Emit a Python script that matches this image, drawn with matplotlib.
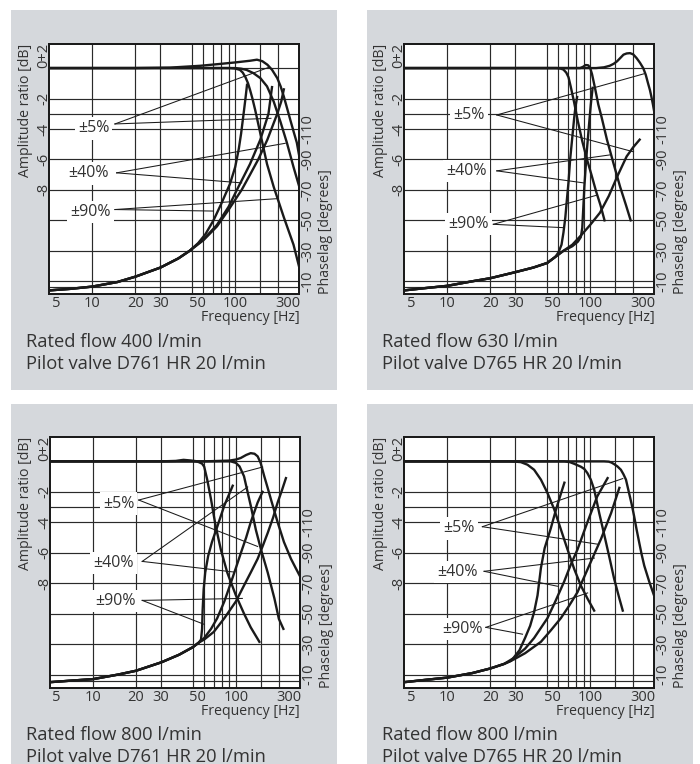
import matplotlib
matplotlib.use('Agg')
import matplotlib.pyplot as plt
from matplotlib.patches import Rectangle
from matplotlib.transforms import blended_transform_factory as blend

W, H = 700, 764
GREY = '#d5d8dc'
INK = '#1a1a1a'
TXT = '#333333'

plt.rcParams['font.family'] = ['Open Sans', 'DejaVu Sans']

# ---- chart values (frequency Hz, dB) / (frequency Hz, phase lag deg) ----
amp400_a = [(5, 0), (20, 0), (35, 0.03), (57, 0.15), (80, 0.28), (100, 0.37), (127, 0.48), (142, 0.55),
            (155, 0.45), (168, 0.22), (181, -0.11), (197, -0.66), (208, -1.2), (219, -1.87), (231, -2.65),
            (243, -3.4), (256, -4.15), (270, -4.9), (281, -5.8)]
amp400_b = [(5, 0), (60, 0), (100, 0), (110, -0.04), (120, -0.12), (134, -0.33), (150, -0.66), (167, -1.2),
            (186, -2.2), (207, -3.5), (230, -4.9), (256, -6.5), (281, -7.8)]
amp400_c = [(5, 0), (60, 0), (92, 0), (100, -0.03), (108, -0.12), (113, -0.3), (118, -0.6), (123, -1.0),
            (127, -1.43), (132, -2.0), (138, -2.75), (150, -4.3), (167, -6.3), (186, -7.8), (219, -9.8),
            (256, -11.6), (281, -13.1)]
phase400_a = [(5, 4), (7, 5), (10, 6.5), (15, 9.5), (20, 13), (30, 19), (40, 25), (48, 30), (55, 35), (62, 41),
              (70.5, 50), (80, 61), (92, 74), (100, 85), (106, 97), (110, 107), (114.5, 120), (118, 130),
              (121, 139)]
phase400_b = [(5, 4), (7, 5), (10, 6.5), (15, 9.5), (20, 13), (30, 19), (40, 25), (48, 30), (60, 37.5),
              (74.5, 47), (90, 59), (102.8, 70), (115, 79), (127, 87), (150, 103), (171, 120), (181, 137.5)]
phase400_c = [(5, 4), (7, 5), (10, 6.5), (15, 9.5), (20, 13), (30, 19), (40, 25), (48, 30), (60, 37),
              (74.5, 46), (90, 57), (111, 70), (127, 80), (145, 90), (168, 103), (197, 120), (210, 128),
              (219, 136)]

amp630_a = [(5, 0), (60, 0), (110, 0), (125, 0.05), (137, 0.15), (146, 0.28), (154, 0.44), (162, 0.65),
            (171, 0.88), (180, 0.96), (190, 0.98), (200, 0.9), (211, 0.66), (223, 0.35), (235, 0), (245, -0.45),
            (254, -1.0), (262, -1.45), (268, -1.87), (275, -2.4), (281, -2.9)]
amp630_b = [(5, 0), (60, 0), (85, 0), (89, 0.08), (93, 0.2), (97, 0.18), (100, 0), (103, -0.4), (108, -1.3),
            (114, -2.4), (120, -3.2), (131, -4.7), (145, -6.2), (162, -7.8), (178, -9.0), (192, -10)]
amp630_c = [(5, 0), (50, 0), (58, 0), (62, -0.03), (65, -0.1), (68, -0.3), (70.5, -0.6), (73, -1.2), (77, -2.2),
            (82, -3.5), (88, -4.8), (95, -6.0), (102, -7.0), (110, -8.1), (118, -9.0), (126, -10)]
phase630_a = [(5, 4), (7, 5.5), (10, 7), (15, 10), (20, 12), (30, 16), (40, 19), (50, 22), (57, 26), (60, 29),
              (63, 34), (65, 42), (67, 52), (68.6, 63), (70.5, 75), (72.4, 90), (74.5, 102), (77.4, 118),
              (79, 125), (81, 131)]
phase630_b = [(5, 4), (7, 5.5), (10, 7), (15, 10), (20, 12), (30, 16), (40, 19), (50, 22), (57, 26), (65, 30),
              (75, 33), (82, 36), (86, 39), (88, 45), (89.7, 60), (91, 72), (93, 85), (95, 97), (98, 112),
              (101, 126), (104, 137)]
phase630_c = [(5, 4), (7, 5.5), (10, 7), (15, 10), (20, 12), (30, 16), (40, 19), (50, 22), (57, 26), (65, 30),
              (75, 34), (86, 40), (100, 47), (117, 55), (135, 66), (155, 79), (180, 92), (200, 98), (222, 103)]

amp800a_a = [(5, 0), (60, 0), (90, 0.05), (100, 0.12), (108, 0.22), (118, 0.42), (127, 0.54), (135, 0.5),
             (142, 0.33), (149, -0.1), (158, -0.98), (167, -1.75), (176, -2.5), (196, -4.0), (217, -5.3),
             (243, -6.4), (262, -7.0), (283, -7.6)]
amp800a_b = [(5, 0), (60, 0), (92, 0), (100, -0.1), (106, -0.33), (114, -0.98), (120, -1.9), (127, -2.9),
             (138, -4.5), (150, -5.8), (167, -7.3), (186, -9.0), (200, -10.35), (215, -11)]
amp800a_c = [(5, 0), (30, 0), (38, 0.03), (43, 0.1), (48, 0.06), (52, 0.02), (55, -0.05), (58, -0.15),
             (60, -0.35), (63, -1.2), (67, -2.5), (72, -4.2), (78.5, -5.8), (87, -7.3), (100, -8.8),
             (114, -10.0), (127, -10.9), (146, -11.85)]
phase800a_a = [(5, 5), (7, 6), (10, 7), (15, 10), (20, 12.5), (30, 18), (40, 23), (50, 28), (55, 31), (57, 33),
               (58, 40), (58.5, 52), (59.5, 66), (61, 77), (64, 88), (68, 97), (74, 107), (83, 121), (95, 134)]
phase800a_b = [(5, 5), (7, 6), (10, 7), (15, 10), (20, 12.5), (30, 18), (40, 23), (50, 28), (55, 31), (60, 34),
               (67, 40), (74, 47), (83, 58), (92, 70), (100, 80), (108.5, 90), (118, 100), (127, 110),
               (142, 123), (153.6, 130)]
phase800a_c = [(5, 5), (7, 6), (10, 7), (15, 10), (20, 12.5), (30, 18), (40, 23), (50, 28), (55, 31), (60, 33),
               (70, 38), (83, 47), (100, 58), (114, 68.5), (127, 77), (142, 86), (155, 95), (167, 103),
               (182, 113), (196, 123), (210, 131), (224, 139)]

amp800b_a = [(5, 0), (100, 0), (125, 0), (135, -0.02), (141, -0.08), (147, -0.18), (155, -0.33), (164, -0.55),
             (171, -0.85), (178, -1.2), (187, -2.07), (195, -2.8), (203, -3.6), (211, -4.45), (220, -5.3),
             (229, -6.1), (239, -6.85), (259, -7.9), (282, -8.9)]
amp800b_b = [(5, 0), (50, 0), (66, 0), (72, -0.05), (77.3, -0.16), (86, -0.35), (91, -0.5), (95.6, -0.77),
             (101, -1.2), (106.6, -1.85), (111, -2.6), (115.7, -3.4), (126, -4.9), (137, -6.4), (147, -7.7),
             (160, -9.0), (169, -9.8)]
amp800b_c = [(5, 0), (20, 0), (27, 0), (30, -0.02), (32.7, -0.05), (36.4, -0.22), (40.5, -0.55), (45.2, -1.2),
             (50.2, -2.07), (56, -3.15), (62.3, -4.46), (69.3, -5.77), (77.3, -7.07), (86, -8.15), (95.6, -9.0),
             (106.6, -9.8)]
phase800b_a = [(5, 5), (7, 6.5), (10, 8), (15, 11), (20, 14), (25, 17), (28, 19), (32, 26), (35, 34), (38, 42),
               (40.5, 51), (42.8, 62), (45.2, 80), (48, 93), (53, 106), (57.5, 118), (62, 128), (66, 136)]
phase800b_b = [(5, 5), (7, 6.5), (10, 8), (15, 11), (20, 14), (25, 17), (29.3, 21), (35, 27), (40.5, 34),
               (50.2, 47), (57, 58), (65.7, 71), (73, 82), (81.4, 92), (95.6, 110), (112, 127), (132.4, 139)]
phase800b_c = [(5, 5), (7, 6.5), (10, 8), (15, 11), (20, 14), (25, 17), (29.3, 20), (35, 24), (45.2, 31.5),
               (53, 39), (62.3, 47), (71, 55), (81.4, 64), (101, 84), (119, 99), (140, 116), (160, 132.6)]

# tolerance labels and their leader lines (Hz, dB)
tol_labels = ['±5%', '±40%', '±90%']
label_pos400 = [(10.2, -3.96), (9.4, -6.92), (9.75, -9.45)]
lead_from400 = [(14.4, -3.67), (14.8, -6.88), (14.4, -9.29)]
lead_to400 = [[(171, 0.04), (178, -3.3)], [(224, -4.94), (111, -7.54)], [(201, -8.57), (70.5, -9.39)]]
label_pos630 = [(14.2, -3.08), (13.7, -6.75), (14.0, -10.26)]
lead_from630 = [(22.2, -3.08), (22.2, -6.75), (21, -10.26)]
lead_to630 = [[(237, -0.38), (201, -5.5)], [(138, -5.7), (89.8, -7.54)], [(111, -8.35), (65, -10.48)]]
label_pos800a = [(15.1, -2.77), (13.95, -6.68), (14.35, -9.18)]
lead_from800a = [(20.9, -2.54), (22.1, -6.57), (22.1, -9.13)]
lead_to800a = [[(154, -0.37), (142, -5.59)], [(121, -1.68), (97.3, -7.27)], [(111, -9.0), (59.9, -10.7)]]
label_pos800b = [(12.1, -4.4), (11.8, -7.27), (12.7, -11.0)]
lead_from800b = [(17.6, -4.29), (18.1, -7.22), (18.6, -10.9)]
lead_to800b = [[(169, -1.13), (113, -5.44)], [(107, -6.35), (59, -8.2)], [(96, -8.64), (33.6, -11.35)]]

cap400 = ['Rated flow 400 l/min', 'Pilot valve D761 HR 20 l/min']
cap630 = ['Rated flow 630 l/min', 'Pilot valve D765 HR 20 l/min']
cap800a = ['Rated flow 800 l/min', 'Pilot valve D761 HR 20 l/min']
cap800b = ['Rated flow 800 l/min', 'Pilot valve D765 HR 20 l/min']

grid_freq = [10, 20, 30, 50, 60, 70, 80, 90, 100, 150, 200]
grid_db = [0, -2, -3, -4, -6, -8, -10, -12, -14, -14.4]
db_ticks = [-2, -4, -6, -8]
phase_ticks = [10, 30, 50, 70, 90, 110]
phase_tick_labels = ['-10', '-30', '-50', '-70', '-90', '-110']
freq_labels = [(5.2, '5', 'left'), (10, '10', 'center'), (20, '20', 'center'), (30, '30', 'center'),
               (54, '50', 'center'), (100, '100', 'center')]

F_LO, F_HI = 5, 281
DB_LO, DB_HI = -14.85, 1.6


def fig_rect(x0, y0, x1, y1):
    return (x0 / W, 1 - y1 / H, (x1 - x0) / W, (y1 - y0) / H)


def draw_panel(fig, left, top, grey, caption, amps, phases, label_pos, lead_from, lead_to):
    gx, gy, gw, gh = fig_rect(*grey)
    fig.add_artist(Rectangle((gx, gy), gw, gh, transform=fig.transFigure,
                             facecolor=GREY, edgecolor='none', zorder=0))
    ax = fig.add_axes(fig_rect(left, top, left + 250, top + 250.5))
    ax.set_facecolor('white')
    ax.set_xscale('log')
    ax.set_xlim(F_LO, F_HI)
    ax.set_ylim(DB_LO, DB_HI)
    ax.set_xticks([], minor=True)
    ax.set_xticks([])
    ax.set_yticks([])
    ph = ax.twinx()
    ph.set_ylim((DB_LO + 15) * 10, (DB_HI + 15) * 10)
    ph.set_yticks([])
    for a in (ax, ph):
        for s in a.spines.values():
            s.set_linewidth(1.3)
            s.set_color(INK)

    for f in grid_freq:
        ax.axvline(f, color='#2a2a2a', lw=0.85, zorder=1)
    for d in grid_db:
        ax.axhline(d, color='#2a2a2a', lw=0.85, zorder=1)

    for curve in amps:
        f, v = zip(*curve)
        ax.plot(f, v, color=INK, lw=1.7, solid_joinstyle='round', zorder=4)
    for curve in phases:
        f, v = zip(*curve)
        ph.plot(f, v, color=INK, lw=1.7, solid_joinstyle='round', zorder=4)

    for name, pos, start, ends in zip(tol_labels, label_pos, lead_from, lead_to):
        ax.text(pos[0], pos[1], name, fontsize=11.5, color=TXT, ha='center', va='center', zorder=3,
                bbox=dict(boxstyle='square,pad=0.2', fc='white', ec='none'))
        for e in ends:
            ax.plot([start[0], e[0]], [start[1], e[1]], color=INK, lw=0.75, zorder=3)

    # axis texts
    left_tr = blend(ax.transAxes, ax.transData)
    ax.text(-0.021, 0, '0+2', transform=left_tr, rotation=90, ha='center', va='bottom',
            fontsize=10.5, color=TXT)
    for d in db_ticks:
        ax.text(-0.021, d, str(d), transform=left_tr, rotation=90, ha='center', va='center',
                fontsize=10.5, color=TXT)
    ax.text(-0.097, 1.0, 'Amplitude ratio [dB]', transform=ax.transAxes, rotation=90, ha='center',
            va='top', fontsize=10.2, color=TXT)
    right_tr = blend(ax.transAxes, ph.transData)
    for p, lab in zip(phase_ticks, phase_tick_labels):
        ax.text(1.036, p, lab, transform=right_tr, rotation=90, ha='center', va='center',
                fontsize=10.5, color=TXT)
    ax.text(1.104, 0.0, 'Phaselag [degrees]', transform=ax.transAxes, rotation=90, ha='center',
            va='bottom', fontsize=10.2, color=TXT)
    bot_tr = blend(ax.transData, ax.transAxes)
    for f, lab, ha in freq_labels:
        ax.text(f, -0.031, lab, transform=bot_tr, ha=ha, va='center_baseline', fontsize=10.5, color=TXT)
    ax.text(1.005, -0.031, '300', transform=ax.transAxes, ha='right', va='center_baseline',
            fontsize=10.5, color=TXT)
    ax.text(1.0, -0.108, 'Frequency [Hz]', transform=ax.transAxes, ha='right', va='baseline',
            fontsize=10.2, color=TXT)

    cap_x = grey[0] + 14.5
    for i, line in enumerate(caption):
        fig.text(cap_x / W, 1 - (top + 303 + 22 * i) / H, line, ha='left', va='baseline',
                 fontsize=13.2, color=TXT)


fig = plt.figure(figsize=(W / 100, H / 100), dpi=100)
draw_panel(fig, 49.3, 43.7, (11, 10, 336.7, 390), cap400,
           [amp400_a, amp400_b, amp400_c], [phase400_a, phase400_b, phase400_c],
           label_pos400, lead_from400, lead_to400)
draw_panel(fig, 404.3, 43.7, (367.3, 10, 693, 390), cap630,
           [amp630_a, amp630_b, amp630_c], [phase630_a, phase630_b, phase630_c],
           label_pos630, lead_from630, lead_to630)
draw_panel(fig, 50, 437, (11, 404, 336.7, 764), cap800a,
           [amp800a_a, amp800a_b, amp800a_c], [phase800a_a, phase800a_b, phase800a_c],
           label_pos800a, lead_from800a, lead_to800a)
draw_panel(fig, 404.3, 437, (367.3, 404, 693, 764), cap800b,
           [amp800b_a, amp800b_b, amp800b_c], [phase800b_a, phase800b_b, phase800b_c],
           label_pos800b, lead_from800b, lead_to800b)

fig.savefig('out.png', dpi=100)
